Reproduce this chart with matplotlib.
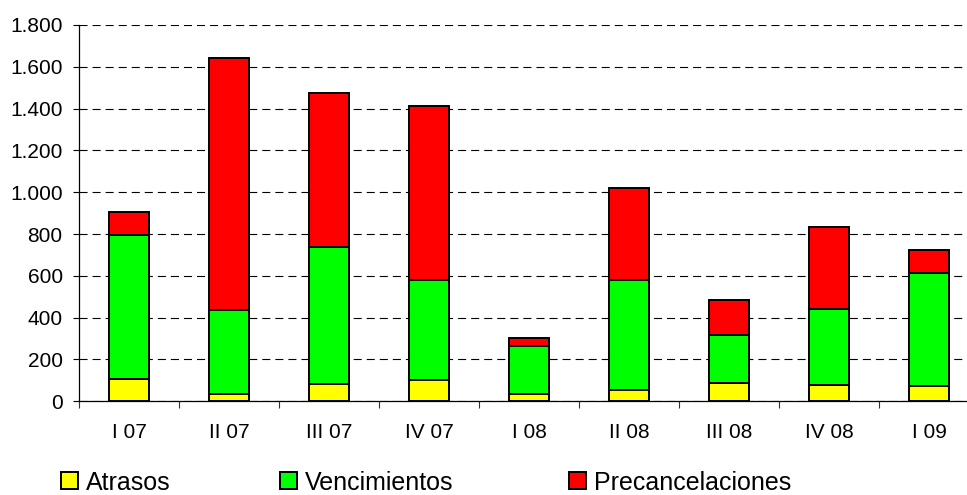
import matplotlib
matplotlib.use("Agg")
import matplotlib.pyplot as plt
from matplotlib.ticker import FuncFormatter, FixedLocator

plt.rcParams['font.family'] = ['Liberation Sans', 'DejaVu Sans']
plt.rcParams['lines.scale_dashes'] = False

quarters = ["I 07", "II 07", "III 07", "IV 07", "I 08", "II 08", "III 08", "IV 08", "I 09"]
atrasos = [105, 35, 81, 102, 35, 54, 86, 78, 73]
vencimientos = [690, 402, 656, 479, 230, 524, 233, 363, 543]
precancelaciones = [110, 1205, 739, 831, 38, 442, 166, 392, 109]
series_names = ["Atrasos", "Vencimientos", "Precancelaciones"]
series_colors = ["#FFFF00", "#00FF00", "#FF0000"]

W, H = 967, 495
fig = plt.figure(figsize=(W / 100, H / 100), dpi=100)
ax = fig.add_axes([79.3 / W, (H - 401.3) / H, 900 / W, (401.3 - 25) / H])

x = list(range(len(quarters)))
bottoms = [0] * len(quarters)
bars = []
for vals, name, col in zip([atrasos, vencimientos, precancelaciones], series_names, series_colors):
    b = ax.bar(x, vals, width=0.4, bottom=bottoms, color=col, edgecolor="black",
               linewidth=1.4, label=name, zorder=3)
    bars.append(b)
    bottoms = [bb + v for bb, v in zip(bottoms, vals)]

ax.set_xlim(-0.5, len(quarters) - 0.5)
ax.set_ylim(0, 1800)
ax.set_yticks(range(0, 1801, 200))
ax.yaxis.set_major_formatter(FuncFormatter(lambda v, p: f"{int(v):,}".replace(",", ".")))
ax.yaxis.grid(True, color="black", linewidth=0.8, linestyle=(0, (5.8, 3.6)), zorder=0)
ax.set_axisbelow(True)

# category boundaries carry the tick marks, centres carry the labels
ax.xaxis.set_major_locator(FixedLocator([i - 0.5 for i in range(len(quarters) + 1)]))
ax.xaxis.set_major_formatter(FuncFormatter(lambda v, p: ""))
ax.xaxis.set_minor_locator(FixedLocator(x))
ax.set_xticklabels(quarters, minor=True)
ax.tick_params(axis="x", which="major", direction="out", length=5, width=0.8, color="#333333")
ax.tick_params(axis="x", which="minor", length=0, pad=15.5, labelsize=15)
ax.tick_params(axis="y", direction="out", length=4.5, width=0.8, pad=7.5, labelsize=15)

for side in ("top", "right"):
    ax.spines[side].set_visible(False)
for side in ("left", "bottom"):
    ax.spines[side].set_linewidth(0.9)

# legend entries spread along the bottom edge
legend_x = [61, 280, 569]
for b, name, lx in zip(bars, series_names, legend_x):
    fig.legend([b], [name], loc="center left", bbox_to_anchor=(lx / W, (H - 482.5) / H),
               frameon=False, fontsize=18, handlelength=0.68, handleheight=0.68,
               handletextpad=0.32, borderpad=0, borderaxespad=0)

fig.savefig("out.png", dpi=100)
